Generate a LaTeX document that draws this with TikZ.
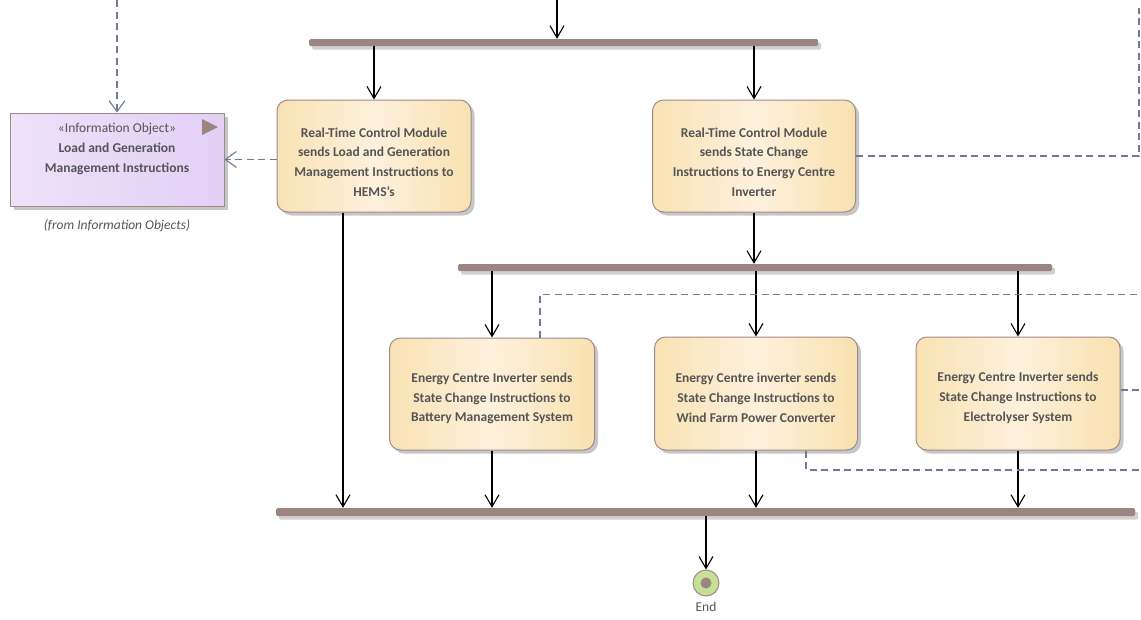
\documentclass[tikz,border=0pt]{standalone}
\usepackage{fontspec}
\setmainfont{Carlito}
\usetikzlibrary{arrows.meta,shadows,calc}

\definecolor{barcol}{RGB}{155,132,130}
\definecolor{edgecol}{RGB}{160,138,136}
\definecolor{txtcol}{RGB}{85,85,85}
\definecolor{depcol}{RGB}{110,122,150}
\definecolor{actL}{RGB}{249,226,180}
\definecolor{actM}{RGB}{253,241,220}
\definecolor{actR}{RGB}{249,225,176}
\definecolor{objL}{RGB}{238,226,249}
\definecolor{objR}{RGB}{226,208,245}
\definecolor{endfill}{RGB}{198,224,150}

\tikzset{
  action/.style={draw=edgecol, line width=1pt, rounded corners=11pt,
    left color=actL, right color=actR, middle color=actM,
    text=txtcol, font=\fontsize{13.5}{19.8}\selectfont\bfseries, align=center,
    inner sep=0pt,
    drop shadow={shadow xshift=3.5pt, shadow yshift=-3.5pt, fill=black!22, opacity=1}},
  fourlines/.style={text height=81pt},
  threelines/.style={text height=58pt},
  infobj/.style={draw=edgecol, line width=1pt,
    left color=objL, right color=objR,
    text=txtcol, align=center, inner sep=0pt,
    drop shadow={shadow xshift=3.5pt, shadow yshift=-3.5pt, fill=black!22, opacity=1}},
  syncbar/.style={fill=barcol, rounded corners=1.5pt, inner sep=0pt,
    drop shadow={shadow xshift=3pt, shadow yshift=-3.5pt, fill=black!18, opacity=1}},
  flow/.style={draw=black, line width=1.1pt, -{Straight Barb[length=12pt,width=14pt,line width=1.1pt]}},
  dep/.style={draw=depcol, line width=1.3pt, dash pattern=on 7pt off 4.5pt},
  deparrow/.style={dep, -{Straight Barb[length=11pt,width=16pt,line width=1.1pt]}},
}

\begin{document}
\begin{tikzpicture}[x=1pt,y=-1pt]
\useasboundingbox (0,0) rectangle (1141,619);

% synchronisation bars
\node[syncbar, minimum width=509pt, minimum height=7pt] (bar1) at (563.5,42.5) {};
\node[syncbar, minimum width=594pt, minimum height=7pt] (bar2) at (755,267.5) {};
\node[syncbar, minimum width=859pt, minimum height=8pt] (bar3) at (705.5,512) {};

% actions
\node[action, fourlines, minimum width=194pt, minimum height=112pt] (b1) at (374,156)
  {Real-Time Control Module\\sends Load and Generation\\Management Instructions to\\HEMS's};
\node[action, fourlines, minimum width=203pt, minimum height=112pt] (b2) at (754,156)
  {Real-Time Control Module\\sends State Change\\Instructions to Energy Centre\\Inverter};
\node[action, threelines, minimum width=205pt, minimum height=112pt] (b3) at (492,394)
  {Energy Centre Inverter sends\\State Change Instructions to\\Battery Management System};
\node[action, threelines, minimum width=203pt, minimum height=113pt] (b4) at (756,393.5)
  {Energy Centre inverter sends\\State Change Instructions to\\Wind Farm Power Converter};
\node[action, threelines, minimum width=204pt, minimum height=113pt] (b5) at (1018,393.5)
  {Energy Centre Inverter sends\\State Change Instructions to\\Electrolyser System};

% information object
\node[infobj, minimum width=214pt, minimum height=93pt] (info) at (117,159.5) {};
\node[text=txtcol, align=center, font=\fontsize{13.5}{20}\selectfont, anchor=north] (infotxt) at (117,120)
  {«Information Object»\\\bfseries Load and Generation\\\bfseries Management Instructions};
\fill[barcol] (202,119) -- (218,127) -- (202,135) -- cycle;
\node[text=txtcol, font=\fontsize{13.5}{15}\selectfont\itshape] (infofrom) at (117,226) {(from Information Objects)};

% final node
\node[circle, draw=edgecol, line width=1pt, fill=endfill, minimum size=26pt, inner sep=0pt] (end) at (706,583) {};
\fill[barcol] (end.center) circle (5.5pt);
\node[text=txtcol, font=\fontsize{13.5}{15}\selectfont] (endlbl) at (706,607) {End};

% free ends
\coordinate (in1) at (557,0);
\coordinate (in2) at (117,0);
\coordinate (c3) at (1139,8);
\coordinate (r4) at (1141,294.5);
\coordinate (r5) at (1141,390);
\coordinate (r6) at (1141,470);

% control flows
\draw[flow] (in1) -- (in1 |- bar1.north);
\draw[flow] (bar1.south -| b1.north) -- (b1.north);
\draw[flow] (bar1.south -| b2.north) -- (b2.north);
\draw[flow] ([xshift=-31pt]b1.south) -- ([xshift=-31pt]b1.south |- bar3.north);
\draw[flow] (b2.south) -- (b2.south |- bar2.north);
\draw[flow] (bar2.south -| b3.north) -- (b3.north);
\draw[flow] (bar2.south -| b4.north) -- (b4.north);
\draw[flow] (bar2.south -| b5.north) -- (b5.north);
\draw[flow] (b3.south) -- (b3.south |- bar3.north);
\draw[flow] (b4.south) -- (b4.south |- bar3.north);
\draw[flow] (b5.south) -- (b5.south |- bar3.north);
\draw[flow] (bar3.south -| end.north) -- (end.north);

% object flows
\draw[deparrow] (in2) -- (info.north);
\draw[deparrow] (b1.west |- info.east) -- (info.east);
\draw[dep] (b2.east) -| (c3);
\draw[dep] ([xshift=48pt]b3.north) |- (r4);
\draw[dep] (b5.east |- r5) -- (r5);
\draw[dep] ([xshift=50pt]b4.south) |- (r6);
\end{tikzpicture}
\end{document}
